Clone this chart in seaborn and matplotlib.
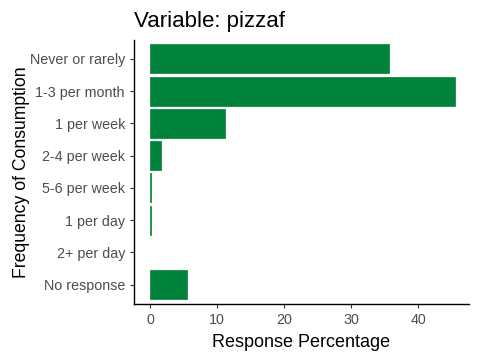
import matplotlib
matplotlib.use('Agg')
import matplotlib.pyplot as plt
import seaborn as sns
import pandas as pd

# --- 資料 ---
categories = ['Never or rarely', '1-3 per month', '1 per week', '2-4 per week',
              '5-6 per week', '1 per day', '2+ per day', 'No response']
percentages = [35.6, 45.5, 11.15, 1.6, 0.12, 0.1, 0.0, 5.5]
x_ticks = [0, 10, 20, 30, 40]

df = pd.DataFrame({'Frequency': categories, 'Percent': percentages})

sns.set_style("white")
plt.rcParams['font.family'] = ['Liberation Sans', 'DejaVu Sans']

fig = plt.figure(figsize=(4.8, 3.6), dpi=100)
ax = fig.add_axes([0.279, 0.156, 0.698, 0.734])

green = '#00823A'
sns.barplot(data=df, y='Frequency', x='Percent', orient='h', color=green,
            saturation=1, width=0.9, order=categories, ax=ax,
            edgecolor=green, linewidth=0.5)
# 值為 0 的長條不畫邊框
for p in ax.patches:
    if p.get_width() == 0:
        p.set_linewidth(0)

ax.set_xlim(-2.43, 47.6)
ax.set_ylim(7.6, -0.6)
ax.set_xticks(x_ticks)
ax.set_xlabel('Response Percentage', fontsize=13, color='black', labelpad=5)
ax.set_ylabel('Frequency of Consumption', fontsize=12.7, color='black', labelpad=0)
ax.set_title('Variable: pizzaf', fontsize=16, loc='left', pad=9, color='black')
ax.tick_params(axis='both', labelsize=10.3, labelcolor='#4D4D4D', length=3,
               width=0.8, color='#333333', direction='out', bottom=True, left=True)
for s in ['top', 'right']:
    ax.spines[s].set_visible(False)
for s in ['left', 'bottom']:
    ax.spines[s].set_color('black')
    ax.spines[s].set_linewidth(1.0)

fig.savefig('out.png', dpi=100)
